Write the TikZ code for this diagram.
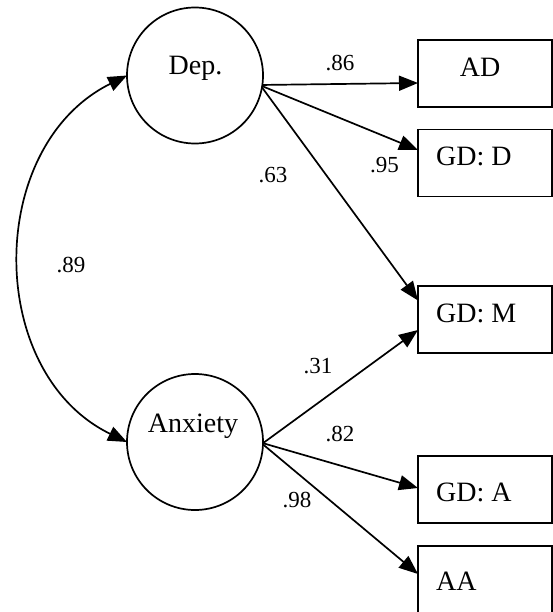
\documentclass[tikz,border=0pt]{standalone}
\usepackage{fontspec}
\setmainfont{Liberation Serif}
\usetikzlibrary{arrows.meta,calc}
\begin{document}
\begin{tikzpicture}[x=1pt,y=-1pt,
  latent/.style={draw,circle,line width=1.7pt,minimum size=136pt,inner sep=0pt,outer sep=0pt},
  obs/.style={draw,rectangle,line width=1.8pt,minimum width=134pt,minimum height=67pt,inner sep=0pt,outer sep=0pt},
  bigtxt/.style={font=\fontsize{28}{31}\selectfont,inner sep=0pt,anchor=base},
  coef/.style={font=\fontsize{23}{26}\selectfont,inner sep=0pt,anchor=base},
  path/.style={line width=1.7pt,-{Triangle[length=19pt,width=15pt]}},
  cov/.style={line width=1.7pt,{Triangle[length=19pt,width=15pt]}-{Triangle[length=19pt,width=15pt]}}]
\useasboundingbox (0,0) rectangle (553,612);
\fill[white] (0,0) rectangle (553,612);
% latent variables
\node[latent] (dep) at (195,75.5) {};
\node[latent] (anx) at (195,442) {};
\node[bigtxt] (dept) at (195.5,75) {Dep.};
\node[bigtxt] (anxt) at (193,432.7) {Anxiety};
% observed
\node[obs] (ad) at (485,73.5) {};
\node[obs] (gdd) at (485,163) {};
\node[obs] (gdm) at (485,319.5) {};
\node[obs] (gda) at (485,489.5) {};
\node[obs] (aa) at (485,579.5) {};
\node[bigtxt] (adt) at (480,76.7) {AD};
\node[bigtxt,anchor=base west] (gddt) at (436,166) {GD: D};
\node[bigtxt,anchor=base west] (gdmt) at (436,322.7) {GD: M};
\node[bigtxt,anchor=base west] (gdat) at (436,501) {GD: A};
\node[bigtxt,anchor=base west] (aat) at (436,590) {AA};
% paths
\draw[path] (dep.-8) -- ($(ad.west)+(0,9.5)$);
\draw[path] (dep.-9) -- ($(gdd.west)+(0,-13)$);
\draw[path] (dep.-10) -- ($(gdm.west)+(0,-19)$);
\draw[path] (anx.-1) -- ($(gdm.west)+(0,10.5)$);
\draw[path] (anx.-1) -- ($(gda.west)+(0,-1.5)$);
\draw[path] (anx.-2) -- ($(aa.west)+(0,-5.5)$);
\draw[cov] (anx.west) .. controls (-15,373) and (-15,146) .. (dep.west);
% coefficients
\node[coef] (c86) at (340,70.7) {.86};
\node[coef] (c95) at (384.5,173) {.95};
\node[coef] (c63) at (273,183) {.63};
\node[coef] (c89) at (71,272.7) {.89};
\node[coef] (c31) at (318,373) {.31};
\node[coef] (c82) at (340,441) {.82};
\node[coef] (c98) at (297,507) {.98};
\end{tikzpicture}
\end{document}
